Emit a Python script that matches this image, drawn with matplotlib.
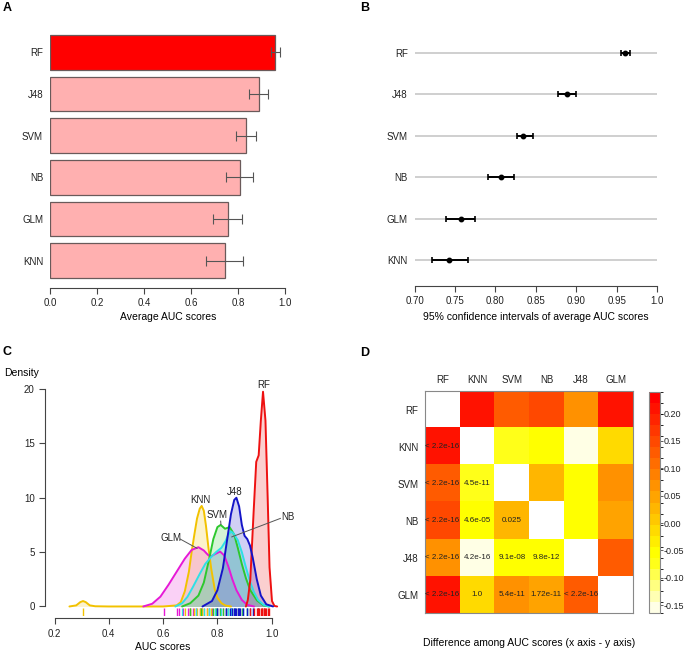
import colorsys
import numpy as np
import matplotlib
matplotlib.use("Agg")
import matplotlib.pyplot as plt
from matplotlib.colors import ListedColormap, BoundaryNorm
from matplotlib.cm import ScalarMappable
import matplotlib.transforms as mtransforms

plt.rcParams['font.family'] = ['Liberation Sans', 'DejaVu Sans']
plt.rcParams['axes.unicode_minus'] = False

W, H = 686, 653

# ---- data ----
models = ["RF", "J48", "SVM", "NB", "GLM", "KNN"]
auc_mean = [0.958, 0.887, 0.833, 0.806, 0.756, 0.742]
auc_sd = [0.020, 0.041, 0.044, 0.056, 0.062, 0.078]

ci_mean = [0.960, 0.889, 0.834, 0.807, 0.757, 0.743]
ci_low = [0.955, 0.877, 0.827, 0.791, 0.739, 0.721]
ci_high = [0.967, 0.900, 0.847, 0.823, 0.775, 0.766]

# density curves
dens = {
    "KNN": ([0.255, 0.28, 0.295, 0.305, 0.315, 0.33, 0.35, 0.40, 0.50, 0.60, 0.65, 0.665, 0.68,
             0.695, 0.705, 0.715, 0.725, 0.735, 0.742, 0.75, 0.758, 0.767, 0.777, 0.79, 0.80,
             0.815, 0.83, 0.85],
            [0.0, 0.1, 0.4, 0.5, 0.4, 0.1, 0.02, 0.0, 0.0, 0.0, 0.1, 0.4, 1.4,
             3.2, 5.0, 6.6, 8.1, 9.0, 9.25, 8.8, 7.4, 5.4, 3.5, 1.6, 0.8,
             0.3, 0.08, 0.0]),
    "GLM": ([0.527, 0.56, 0.59, 0.62, 0.65, 0.68, 0.705, 0.73, 0.75, 0.765, 0.775, 0.79, 0.81,
             0.825, 0.84, 0.855, 0.87, 0.89, 0.91, 0.935],
            [0.0, 0.25, 0.9, 2.0, 3.2, 4.4, 5.2, 5.45, 5.15, 4.75, 4.6, 4.8, 5.05,
             4.7, 3.7, 2.5, 1.5, 0.6, 0.15, 0.0]),
    "SVM": ([0.67, 0.70, 0.73, 0.75, 0.77, 0.785, 0.80, 0.812, 0.828, 0.845, 0.862, 0.875,
             0.89, 0.905, 0.921, 0.946, 0.97, 0.99],
            [0.0, 0.3, 1.0, 2.2, 4.4, 6.2, 7.3, 7.5, 7.15, 7.3, 6.6, 5.4,
             3.9, 2.6, 1.5, 0.55, 0.1, 0.0]),
    "NB": ([0.645, 0.67, 0.69, 0.71, 0.735, 0.755, 0.775, 0.795, 0.815, 0.83, 0.84, 0.85,
            0.86, 0.875, 0.89, 0.905, 0.92, 0.935, 0.95, 0.97, 0.99],
           [0.0, 0.3, 0.9, 1.8, 3.0, 3.9, 4.5, 5.0, 5.4, 6.0, 6.6, 6.9,
            6.7, 6.1, 5.0, 3.6, 2.3, 1.3, 0.6, 0.15, 0.0]),
    "J48": ([0.745, 0.78, 0.80, 0.82, 0.835, 0.85, 0.862, 0.870, 0.880, 0.89, 0.90, 0.91,
             0.92, 0.93, 0.945, 0.96, 0.98, 1.005],
            [0.0, 0.5, 1.5, 3.5, 6.0, 8.5, 9.8, 10.0, 9.2, 7.5, 6.5, 6.2,
             5.6, 4.5, 2.5, 1.0, 0.2, 0.0]),
    "RF": ([0.905, 0.912, 0.921, 0.933, 0.943, 0.952, 0.960, 0.968, 0.977, 0.985, 0.992,
            1.001, 1.01, 1.02],
           [0.0, 0.6, 2.4, 8.5, 13.3, 13.9, 17.1, 19.75, 17.1, 10.1, 3.6,
            0.5, 0.05, 0.0]),
}
dens_colors = {"KNN": "#F2C200", "GLM": "#E619D6", "SVM": "#2DC82D",
               "NB": "#2EE0E6", "J48": "#1414C8", "RF": "#EE1111"}

rug = {
    "GLM": [0.605, 0.65, 0.66, 0.675, 0.69, 0.70, 0.71, 0.72, 0.735, 0.745, 0.76, 0.78,
            0.80, 0.81, 0.82, 0.83, 0.85],
    "KNN": [0.305, 0.68, 0.70, 0.715, 0.725, 0.735, 0.74, 0.745, 0.75, 0.76, 0.775, 0.79],
    "SVM": [0.70, 0.74, 0.77, 0.785, 0.795, 0.80, 0.81, 0.82, 0.83, 0.84, 0.85, 0.86,
            0.875, 0.89, 0.91],
    "NB": [0.67, 0.72, 0.75, 0.77, 0.79, 0.80, 0.815, 0.83, 0.84, 0.85, 0.855, 0.865,
           0.88, 0.895, 0.91, 0.93],
    "J48": [0.80, 0.83, 0.845, 0.855, 0.86, 0.865, 0.87, 0.875, 0.88, 0.885, 0.895, 0.91,
            0.92, 0.93, 0.95],
    "RF": [0.92, 0.935, 0.945, 0.95, 0.955, 0.96, 0.963, 0.966, 0.97, 0.973, 0.976, 0.98,
           0.985, 0.99],
}

# heatmap: order, differences (row vs col, upper triangle), p-values (lower)
hm_models = ["RF", "KNN", "SVM", "NB", "J48", "GLM"]
diff_upper = [
    [None, 0.217, 0.126, 0.153, 0.071, 0.203],
    [None, None, -0.065, -0.060, -0.146, -0.014],
    [None, None, None, 0.027, -0.055, 0.077],
    [None, None, None, None, -0.060, 0.050],
    [None, None, None, None, None, 0.132],
    [None, None, None, None, None, None],
]
pvals = [
    [],
    ["< 2.2e-16"],
    ["< 2.2e-16", "4.5e-11"],
    ["< 2.2e-16", "4.6e-05", "0.025"],
    ["< 2.2e-16", "4.2e-16", "9.1e-08", "9.8e-12"],
    ["< 2.2e-16", "1.0", "5.4e-11", "1.72e-11", "< 2.2e-16"],
]
cb_ticks = [-0.15, -0.10, -0.05, 0.0, 0.05, 0.10, 0.15, 0.20]

fig = plt.figure(figsize=(W / 100, H / 100), dpi=100)


def ax_at(l, t, r, b):
    return fig.add_axes([l / W, 1 - b / H, (r - l) / W, (b - t) / H])


def r_axis(ax):
    for s in ["top", "right"]:
        ax.spines[s].set_visible(False)
    ax.tick_params(length=4, width=0.8, colors="#444444", labelcolor="#222222", labelsize=7)


# ---- A ----
axA = ax_at(50, 30, 285.3, 288)
pos = np.arange(len(models))[::-1]
bar_cols = ["#FF0000"] + ["#FFB0B0"] * (len(models) - 1)
axA.barh(pos, auc_mean, height=0.833, color=bar_cols, edgecolor="#6A5A5A", linewidth=0.9)
axA.errorbar(auc_mean, pos, xerr=auc_sd, fmt="none", ecolor="#555555", elinewidth=0.8,
             capsize=3.5, capthick=0.8)
axA.set_xlim(0, 1.0)
axA.set_ylim(-0.66, 5.54)
r_axis(axA)
axA.spines["left"].set_visible(False)
axA.set_yticks(pos)
axA.set_yticklabels(models)
axA.tick_params(axis="y", length=0, pad=5)
axA.set_xticks([0, 0.2, 0.4, 0.6, 0.8, 1.0])
axA.set_xticklabels(["0.0", "0.2", "0.4", "0.6", "0.8", "1.0"])
axA.spines["bottom"].set_color("#444444")

# ---- B ----
axB = ax_at(414.7, 30, 657, 285.7)
posB = np.arange(len(models))[::-1]
for p in posB:
    axB.axhline(p, color="#CCCCCC", lw=1.3, zorder=0)
cm = np.array(ci_mean)
axB.errorbar(cm, posB, xerr=[cm - np.array(ci_low), np.array(ci_high) - cm], fmt="o",
             color="black", ms=3.2, elinewidth=1.4, capsize=2.2, capthick=1.2)
axB.set_xlim(0.7, 1.0)
axB.set_ylim(-0.62, 5.55)
r_axis(axB)
axB.spines["left"].set_visible(False)
axB.set_yticks(posB)
axB.set_yticklabels(models)
axB.tick_params(axis="y", length=0, pad=5)
axB.set_xticks([0.70, 0.75, 0.80, 0.85, 0.90, 0.95, 1.0])
axB.set_xticklabels(["0.70", "0.75", "0.80", "0.85", "0.90", "0.95", "1.0"])
axB.spines["bottom"].set_color("#444444")

fig.text(167.7 / W, 1 - 317 / H, "Average AUC scores", ha="center", va="center", fontsize=7.5)
fig.text(536 / W, 1 - 317 / H, "95% confidence intervals of average AUC scores",
         ha="center", va="center", fontsize=7.5)

# ---- C ----
axC = ax_at(45, 380, 288, 615.5)
for m in ["KNN", "GLM", "SVM", "NB", "RF", "J48"]:
    xs, ys = dens[m]
    axC.fill_between(xs, 0, ys, color=dens_colors[m], alpha=0.2, lw=0)
    axC.plot(xs, ys, color=dens_colors[m], lw=1.4, solid_capstyle="round")
trans = mtransforms.blended_transform_factory(axC.transData, axC.transAxes)
for m in ["GLM", "KNN", "SVM", "NB", "J48", "RF"]:
    axC.vlines(rug[m], 0, 0.032, color=dens_colors[m], lw=1.0, transform=trans)
axC.set_xlim(0.165, 1.06)
axC.set_ylim(-0.83, 20.83)
r_axis(axC)
axC.spines["left"].set_bounds(0, 20)
axC.spines["bottom"].set_bounds(0.2, 1.0)
axC.spines["bottom"].set_position(("outward", 2))
axC.spines["left"].set_color("#444444")
axC.spines["bottom"].set_color("#444444")
axC.set_yticks([0, 5, 10, 15, 20])
axC.set_xticks([0.2, 0.4, 0.6, 0.8, 1.0])
lab = dict(fontsize=7, ha="center", va="center", color="#222222")
axC.text(0.970, 20.4, "RF", **lab)
axC.text(0.865, 10.5, "J48", **lab)
axC.text(0.738, 9.8, "KNN", **lab)
axC.text(0.800, 8.4, "SVM", **lab)
axC.plot([0.812, 0.813], [7.85, 7.55], color="#555555", lw=0.7)
axC.text(0.630, 6.3, "GLM", **lab)
axC.plot([0.663, 0.725], [6.2, 5.35], color="#555555", lw=0.7)
axC.text(1.058, 8.2, "NB", clip_on=False, **lab)
axC.plot([1.032, 0.853], [8.1, 6.4], color="#555555", lw=0.7, clip_on=False)
fig.text(4 / W, 1 - 373 / H, "Density", ha="left", va="center", fontsize=7.5)
fig.text(163 / W, 1 - 647 / H, "AUC scores", ha="center", va="center", fontsize=7.5)

# ---- D ----


def heat_colors(n):
    # same scheme as R's heat.colors()
    j = n // 4
    i = n - j
    cols = [colorsys.hsv_to_rgb(h, 1, 1) for h in np.linspace(0, 1 / 6, i)]
    if j:
        cols += [colorsys.hsv_to_rgb(1 / 6, s, 1)
                 for s in np.linspace(1 - 1 / (2 * j), 1 / (2 * j), j)]
    return cols


nlev = 20
cmap = ListedColormap(heat_colors(nlev)[::-1])
cmap.set_bad("white")
bounds = np.linspace(-0.165, 0.240, nlev + 1)
norm = BoundaryNorm(bounds, nlev)

n = len(hm_models)
mat = np.full((n, n), np.nan)
for i in range(n):
    for j in range(i + 1, n):
        mat[i, j] = diff_upper[i][j]
        mat[j, i] = diff_upper[i][j]

axD = ax_at(425.3, 391, 633, 613.3)
axD.imshow(np.ma.masked_invalid(mat), cmap=cmap, norm=norm, aspect="auto",
           interpolation="nearest")
for i in range(n):
    for j, t in enumerate(pvals[i]):
        axD.text(j, i, t, ha="center", va="center", fontsize=5.8, color="#222222")
axD.set_xticks(range(n))
axD.set_xticklabels(hm_models)
axD.set_yticks(range(n))
axD.set_yticklabels(hm_models)
axD.xaxis.tick_top()
axD.tick_params(length=0, labelsize=7, labelcolor="#222222")
axD.tick_params(axis="x", pad=4)
axD.tick_params(axis="y", pad=5)
for s in axD.spines.values():
    s.set_color("#888888")
    s.set_linewidth(0.8)

cax = ax_at(649, 391.7, 659.7, 613.3)
cb = fig.colorbar(ScalarMappable(norm=norm, cmap=cmap), cax=cax, ticks=cb_ticks)
cb.ax.set_yticklabels(["%.2f" % t for t in cb_ticks])
cb.ax.tick_params(length=2, width=0.6, pad=1, labelsize=6.5, colors="#444444",
                  labelcolor="#222222")
cb.outline.set_edgecolor("#888888")
cb.outline.set_linewidth(0.8)
fig.text(529.5 / W, 1 - 643 / H, "Difference among AUC scores (x axis - y axis)",
         ha="center", va="center", fontsize=7.5)

# panel letters
for x, y, t in [(7, 8, "A"), (365, 8, "B"), (7, 352, "C"), (365, 353, "D")]:
    fig.text(x / W, 1 - y / H, t, ha="center", va="center", fontsize=9, fontweight="bold")

fig.savefig("out.png", dpi=100)
